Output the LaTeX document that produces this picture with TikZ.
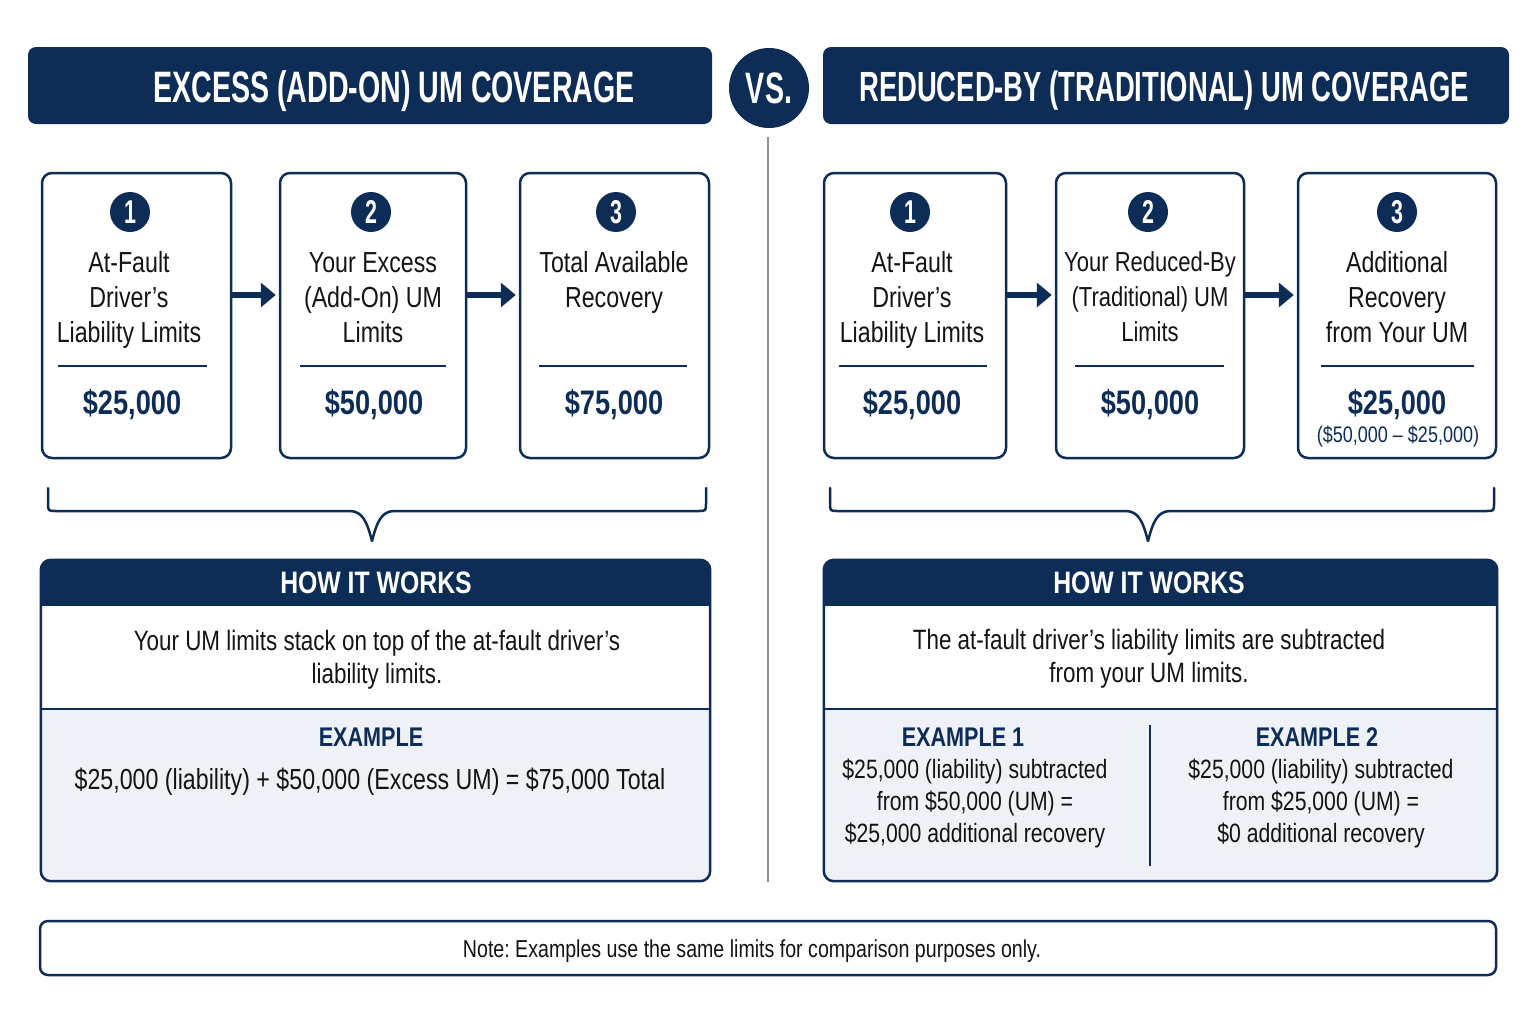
\documentclass[tikz,border=0pt]{standalone}
\usepackage{fontspec}
\setmainfont{Liberation Sans}[FakeStretch=0.8]
\newfontfamily\titlefont{Liberation Sans}[FakeStretch=0.65]
\usetikzlibrary{arrows.meta}
\definecolor{navy}{HTML}{0E2D56}
\definecolor{panelbg}{HTML}{EEF1F6}
\definecolor{ink}{HTML}{141414}
\definecolor{vline}{HTML}{8A8F96}
\frenchspacing
\begin{document}
\frenchspacing
\begin{tikzpicture}[x=1pt,y=-1pt,
  hdr/.style={fill=navy, rounded corners=8pt, minimum height=77pt, inner sep=0},
  htext/.style={text=white, inner sep=0, font=\titlefont\bfseries\fontsize{44}{44}\selectfont},
  stepbox/.style={draw=navy, line width=2.5pt, rounded corners=10pt, minimum height=285pt, fill=white, inner sep=0},
  numc/.style={circle, fill=navy, minimum size=40pt, inner sep=0, text=white,
    font=\titlefont\bfseries\fontsize{33}{33}\selectfont},
  lbl/.style={align=center, text=ink, inner sep=0, font=\fontsize{29}{35}\selectfont},
  amt/.style={text=navy, inner sep=0, font=\bfseries\fontsize{34}{34}\selectfont},
  rule/.style={draw=navy, line width=1.5pt},
  flow/.style={draw=navy, line width=6pt, -{Triangle[length=15pt,width=24pt]}, shorten >=3pt},
  brace/.style={draw=navy, line width=2.5pt, line join=round, line cap=round},
  panel/.style={minimum width=669pt, minimum height=321pt, inner sep=0},
  phead/.style={text=white, inner sep=0, font=\bfseries\fontsize{31}{31}\selectfont},
  desc/.style={align=center, text=ink, inner sep=0, font=\fontsize{28}{33}\selectfont},
  exhead/.style={text=navy, inner sep=0, font=\bfseries\fontsize{27}{27}\selectfont},
  exbody/.style={align=center, text=ink, inner sep=0, font=\fontsize{26.5}{32}\selectfont}
]
\useasboundingbox (0,0) rectangle (1535,1023);
\fill[white] (0,0) rectangle (1535,1023);

% headers
\node[hdr, minimum width=684pt] (hl) at (370,85.5) {};
\node[hdr, minimum width=686pt] (hr) at (1166,85.5) {};
\node[htext] (tl) at (394,91) {EXCESS (ADD-ON) UM COVERAGE};
\node[htext, font=\titlefont\bfseries\fontsize{42.2}{42.2}\selectfont] (tr) at (1164,91) {REDUCED-BY (TRADITIONAL) UM COVERAGE};
\node[circle, fill=navy, minimum size=80pt, inner sep=0, text=white,
  font=\titlefont\bfseries\fontsize{44}{44}\selectfont] (vs) at (769,88) {VS.};

% divider
\coordinate (vtop) at (768,137);
\coordinate (vbot) at (768,882);
\draw[vline, line width=2pt] (vtop) -- (vbot);

% ---------- left steps
\node[stepbox, minimum width=189pt] (b1) at (136.5,315.5) {};
\node[stepbox, minimum width=186pt] (b2) at (373,315.5) {};
\node[stepbox, minimum width=189pt] (b3) at (614.5,315.5) {};
\node[numc] (n1) at (130,212) {1};
\node[numc] (n2) at (371,212) {2};
\node[numc] (n3) at (616,212) {3};
\node[lbl] (l1) at (129,300) {At-Fault\\Driver’s\\Liability Limits};
\node[lbl] (l2) at (373,298) {Your Excess\\(Add-On) UM\\Limits};
\node[lbl] (l3) at (614,282) {Total Available\\Recovery};
\draw[rule] (58,366) -- (207,366);
\draw[rule] (300,366) -- (446,366);
\draw[rule] (539,366) -- (687,366);
\node[amt] (a1) at (132,405) {\$25,000};
\node[amt] (a2) at (374,405) {\$50,000};
\node[amt] (a3) at (614,405) {\$75,000};
\coordinate (ay) at (0,295);
\draw[flow] (b1.east |- ay) -- (b2.west |- ay);
\draw[flow] (b2.east |- ay) -- (b3.west |- ay);

% ---------- right steps
\node[stepbox, minimum width=182pt] (b4) at (915,315.5) {};
\node[stepbox, minimum width=188pt] (b5) at (1150,315.5) {};
\node[stepbox, minimum width=198pt] (b6) at (1397,315.5) {};
\node[numc] (n4) at (910,212) {1};
\node[numc] (n5) at (1148,212) {2};
\node[numc] (n6) at (1397,212) {3};
\node[lbl] (l4) at (912,300) {At-Fault\\Driver’s\\Liability Limits};
\node[lbl, font=\fontsize{27.5}{35}\selectfont] (l5) at (1150,297) {Your Reduced-By\\(Traditional) UM\\Limits};
\node[lbl] (l6) at (1397,297) {Additional\\Recovery\\from Your UM};
\draw[rule] (839,366) -- (987,366);
\draw[rule] (1075,366) -- (1224,366);
\draw[rule] (1321,366) -- (1474,366);
\node[amt] (a4) at (912,405) {\$25,000};
\node[amt] (a5) at (1150,405) {\$50,000};
\node[amt] (a6) at (1397,405) {\$25,000};
\node[text=navy, inner sep=0, font=\fontsize{22.5}{22.5}\selectfont] (a6s) at (1398,436) {(\$50,000 – \$25,000)};
\draw[flow] (b4.east |- ay) -- (b5.west |- ay);
\draw[flow] (b5.east |- ay) -- (b6.west |- ay);

% ---------- braces
\draw[brace] (48,488) -- (48,503) .. controls (48,511) and (48,511) .. (56,511) -- (350,511)
  .. controls (364,511) and (368,526) .. (372,541)
  .. controls (376,526) and (380,511) .. (394,511) -- (698,511)
  .. controls (706,511) and (706,511) .. (706,503) -- (706,488);
\draw[brace] (830,488) -- (830,503) .. controls (830,511) and (830,511) .. (838,511) -- (1126,511)
  .. controls (1140,511) and (1144,526) .. (1148,541)
  .. controls (1152,526) and (1156,511) .. (1170,511) -- (1486,511)
  .. controls (1494,511) and (1494,511) .. (1494,503) -- (1494,488);

% ---------- left panel
\node[panel] (p1) at (375.5,720.5) {};
\begin{scope}
\clip[rounded corners=10pt] (p1.north west) rectangle (p1.south east);
\fill[white] (p1.north west) rectangle (p1.south east);
\fill[navy] (41,560) rectangle (710,606);
\fill[panelbg] (41,709) rectangle (710,881);
\end{scope}
\draw[navy, line width=2.5pt, rounded corners=10pt] (p1.north west) rectangle (p1.south east);
\draw[rule] (41,709) -- (710,709);
\node[phead] (h1) at (376,583) {HOW IT WORKS};
\node[desc] (d1) at (377,659.5) {Your UM limits stack on top of the at-fault driver’s\\liability limits.};
\node[exhead] (e1) at (371,737) {EXAMPLE};
\node[exbody, font=\fontsize{29}{32}\selectfont] (x1) at (370,782) {\$25,000 (liability) + \$50,000 (Excess UM) = \$75,000 Total};

% ---------- right panel
\node[panel, minimum width=673pt] (p2) at (1160.5,720.5) {};
\begin{scope}
\clip[rounded corners=10pt] (p2.north west) rectangle (p2.south east);
\fill[white] (p2.north west) rectangle (p2.south east);
\fill[navy] (824,560) rectangle (1497,606);
\fill[panelbg] (824,709) rectangle (1497,881);
\end{scope}
\draw[navy, line width=2.5pt, rounded corners=10pt] (p2.north west) rectangle (p2.south east);
\draw[rule] (824,709) -- (1497,709);
\node[phead] (h2) at (1149,583) {HOW IT WORKS};
\node[desc] (d2) at (1149,659) {The at-fault driver’s liability limits are subtracted\\from your UM limits.};
\node[exhead] (e2) at (963,737) {EXAMPLE 1};
\node[exbody] (x2) at (975,803) {\$25,000 (liability) subtracted\\from \$50,000 (UM) =\\\$25,000 additional recovery};
\node[exhead] (e3) at (1317,737) {EXAMPLE 2};
\node[exbody] (x3) at (1321,803) {\$25,000 (liability) subtracted\\from \$25,000 (UM) =\\\$0 additional recovery};
\draw[rule] (1150,725) -- (1150,866);

% ---------- note
\node[draw=navy, line width=2.5pt, rounded corners=8pt, minimum width=1456pt, minimum height=54pt,
  inner sep=0] (note) at (768,948) {};
\node[text=ink, inner sep=0, font=\fontsize{24.5}{24.5}\selectfont] (notetext) at (752,951)
  {Note: Examples use the same limits for comparison purposes only.};
\end{tikzpicture}
\end{document}
